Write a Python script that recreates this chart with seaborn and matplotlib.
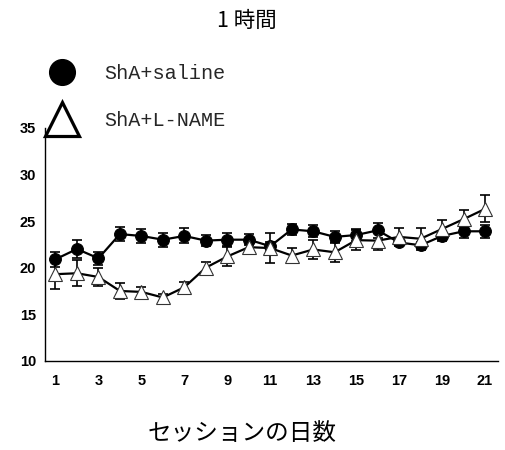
import matplotlib
matplotlib.use("Agg")
import matplotlib.pyplot as plt
from matplotlib.lines import Line2D
import numpy as np
import pandas as pd
import seaborn as sns

# Session days and group means with SEM
days = list(range(1, 22))
saline_mean = [20.9, 22.0, 21.0, 23.6, 23.4, 23.0, 23.4, 22.9, 23.0, 23.0, 22.3,
               24.1, 23.9, 23.3, 23.5, 24.0, 22.7, 22.4, 23.4, 23.9, 23.9]
saline_sem = [0.8, 1.0, 0.7, 0.75, 0.75, 0.75, 0.8, 0.6, 0.7, 0.6, 0.5,
              0.6, 0.65, 0.6, 0.6, 0.78, 0.3, 0.3, 0.5, 0.7, 0.7]
lname_mean = [19.3, 19.4, 19.0, 17.5, 17.4, 16.8, 17.9, 20.0, 21.2, 22.2, 22.1,
              21.3, 21.95, 21.65, 22.95, 22.9, 23.3, 23.1, 24.15, 25.2, 26.3]
lname_sem = [1.6, 1.4, 1.0, 0.85, 0.5, 0.4, 0.6, 0.6, 1.0, 0.7, 1.6,
             0.8, 1.0, 1.0, 1.1, 1.0, 1.0, 1.2, 1.0, 1.0, 1.45]

x_ticks = [1, 3, 5, 7, 9, 11, 13, 15, 17, 19, 21]
y_ticks = [10, 15, 20, 25, 30, 35]
title_text = "1 時間"
xlabel_text = "セッションの日数"
labels = ["ShA+saline", "ShA+L-NAME"]

df = pd.DataFrame({
    "day": days * 2,
    "value": saline_mean + lname_mean,
    "group": [labels[0]] * len(days) + [labels[1]] * len(days),
})

sns.set_theme(style="white")
plt.rcParams["font.family"] = ["Noto Sans CJK JP", "DejaVu Sans"]

fig = plt.figure(figsize=(5.06, 4.5), dpi=100)
ax = fig.add_axes([0.088, 0.198, 0.896, 0.518])

# error bars first, markers on top
ax.errorbar(days, saline_mean, yerr=saline_sem, fmt="none", ecolor="black",
            elinewidth=1.2, capsize=3.5, capthick=1.2, zorder=2)
ax.errorbar(days, lname_mean, yerr=lname_sem, fmt="none", ecolor="black",
            elinewidth=1.2, capsize=3.5, capthick=1.2, zorder=4)

sns.lineplot(data=df[df["group"] == labels[0]], x="day", y="value", ax=ax,
             color="black", linewidth=1.6, marker="o", markersize=8.5,
             markerfacecolor="black", markeredgecolor="black", zorder=3,
             legend=False)
sns.lineplot(data=df[df["group"] == labels[1]], x="day", y="value", ax=ax,
             color="black", linewidth=1.6, marker="^", markersize=9.5,
             markerfacecolor="white", markeredgecolor="#333333",
             markeredgewidth=0.8, zorder=5, legend=False)

ax.set_xlim(0.49, 21.6)
ax.set_ylim(10, 35)
ax.set_xticks(x_ticks)
ax.set_yticks(y_ticks)
ax.set_xlabel("")
ax.set_ylabel("")

for side in ["top", "right"]:
    ax.spines[side].set_visible(False)
for side in ["left", "bottom"]:
    ax.spines[side].set_color("black")
    ax.spines[side].set_linewidth(1.0)

ax.tick_params(axis="x", length=0, pad=9.5)
ax.tick_params(axis="y", direction="out", length=3, width=1, color="black", pad=3)
for lab in ax.get_xticklabels() + ax.get_yticklabels():
    lab.set_fontfamily("Liberation Sans")
    lab.set_fontweight("bold")
    lab.set_fontsize(10.5)
    lab.set_color("black")

handles = [
    Line2D([], [], linestyle="none", marker="o", markersize=18.5,
           markerfacecolor="black", markeredgecolor="black"),
    Line2D([], [], linestyle="none", marker="^", markersize=24,
           markerfacecolor="white", markeredgecolor="black", markeredgewidth=2.3),
]
fig.legend(handles, labels, loc="upper left",
           bbox_to_anchor=(47 / 506, 1 - 64 / 450), frameon=False,
           prop={"family": "Liberation Mono", "size": 14.5},
           handlelength=1.5, handletextpad=1.35, labelspacing=1.38,
           borderpad=0, borderaxespad=0)

fig.text(247 / 506, 1 - 21 / 450, title_text, ha="center", va="center",
         fontsize=15.5, color="black")
fig.text(242 / 506, 1 - 434 / 450, xlabel_text, ha="center", va="center",
         fontsize=17, color="black")

fig.savefig("out.png", dpi=100, facecolor="white")
